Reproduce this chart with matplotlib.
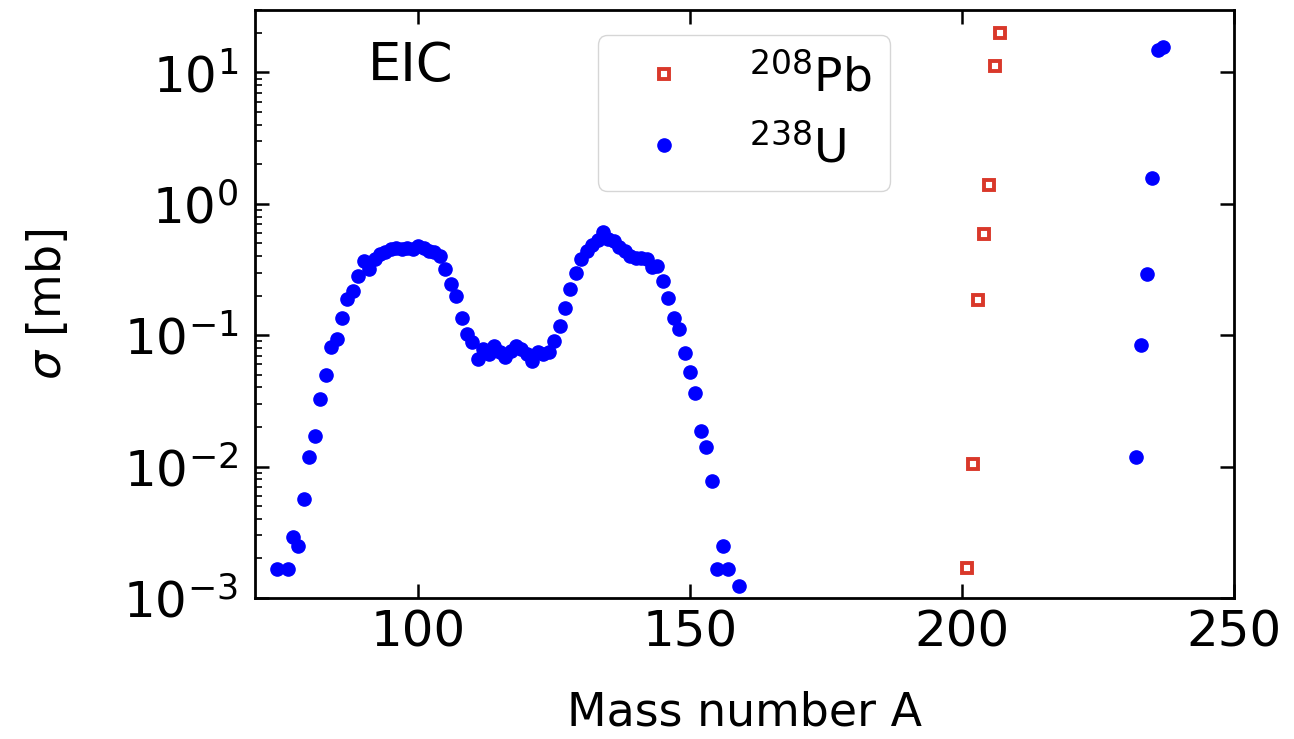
import numpy as np
import matplotlib
matplotlib.use('Agg')
import matplotlib.pyplot as plt

# 238U fission fragments (blue dots)
u_frag_A = [74, 76, 77, 78, 79, 80, 81, 82, 83, 84, 85, 86, 87, 88, 89, 90, 91,
            92, 93, 94, 95, 96, 97, 98, 99, 100, 101, 102, 103, 104, 105, 106,
            107, 108, 109, 110, 111, 112, 113, 114, 115, 116, 117, 118, 119, 120,
            121, 122, 123, 124, 125, 126, 127, 128, 129, 130, 131, 132, 133, 134,
            135, 136, 137, 138, 139, 140, 141, 142, 143, 144, 145, 146, 147, 148,
            149, 150, 151, 152, 153, 154, 155, 156, 157, 159]
u_frag_sigma = [0.00165, 0.00165, 0.0029, 0.0025, 0.0057, 0.0119, 0.0171, 0.0326,
                0.0496, 0.0815, 0.093, 0.135, 0.188, 0.218, 0.28, 0.368, 0.318,
                0.38, 0.415, 0.43, 0.45, 0.46, 0.45, 0.46, 0.45, 0.48, 0.46, 0.44,
                0.43, 0.40, 0.32, 0.245, 0.197, 0.136, 0.102, 0.088, 0.066, 0.078,
                0.072, 0.083, 0.074, 0.068, 0.076, 0.083, 0.078, 0.072, 0.064,
                0.074, 0.072, 0.074, 0.09, 0.118, 0.16, 0.224, 0.296, 0.379, 0.439,
                0.49, 0.53, 0.605, 0.54, 0.52, 0.47, 0.44, 0.40, 0.39, 0.385,
                0.379, 0.33, 0.337, 0.259, 0.191, 0.136, 0.111, 0.0738, 0.052,
                0.0366, 0.0187, 0.014, 0.0078, 0.00165, 0.0025, 0.00165, 0.00123]

# 238U near-target residues
u_res_A = [232, 233, 234, 235, 236, 237]
u_res_sigma = [0.0119, 0.0835, 0.294, 1.58, 14.9, 15.5]

# 208Pb residues (red open squares)
pb_A = [201, 202, 203, 204, 205, 206, 207]
pb_sigma = [0.00168, 0.0105, 0.185, 0.587, 1.40, 11.3, 20.1]

u_A = u_frag_A + u_res_A
u_sigma = u_frag_sigma + u_res_sigma

fig = plt.figure(figsize=(12.94, 7.39), dpi=100)
ax = fig.add_axes([0.197, 0.191, 0.7566, 0.7957])

ax.plot(pb_A, pb_sigma, 's', color='#d9382a', mfc='white', ms=6.5, mew=2.8,
        ls='none', label=r'$^{208}$Pb')
ax.plot(u_A, u_sigma, 'o', color='#0000ff', ms=9.5, ls='none',
        label=r'$^{238}$U')

ax.set_yscale('log')
ax.set_xlim(70, 250)
ax.set_ylim(1e-3, 30)
ax.set_xticks([100, 150, 200, 250])

ax.tick_params(which='major', direction='in', top=True, right=True,
               length=10, width=1.8, labelsize=36)
ax.tick_params(axis='x', which='major', pad=8)
ax.tick_params(axis='y', which='major', pad=12)
ax.tick_params(which='minor', direction='in', left=True, right=False,
               length=5, width=1.2)
for s in ax.spines.values():
    s.set_linewidth(2)

ax.set_xlabel('Mass number A', fontsize=33, labelpad=24)
ax.set_ylabel(r'$\sigma$ [mb]', fontsize=33, labelpad=38)

ax.text(0.115, 0.905, 'EIC', transform=ax.transAxes, fontsize=38,
        va='center', ha='left')

ax.legend(loc='upper left', bbox_to_anchor=(0.35, 0.957), borderaxespad=0,
          fontsize=34, numpoints=1, handlelength=2)

fig.savefig('out.png', dpi=100)
